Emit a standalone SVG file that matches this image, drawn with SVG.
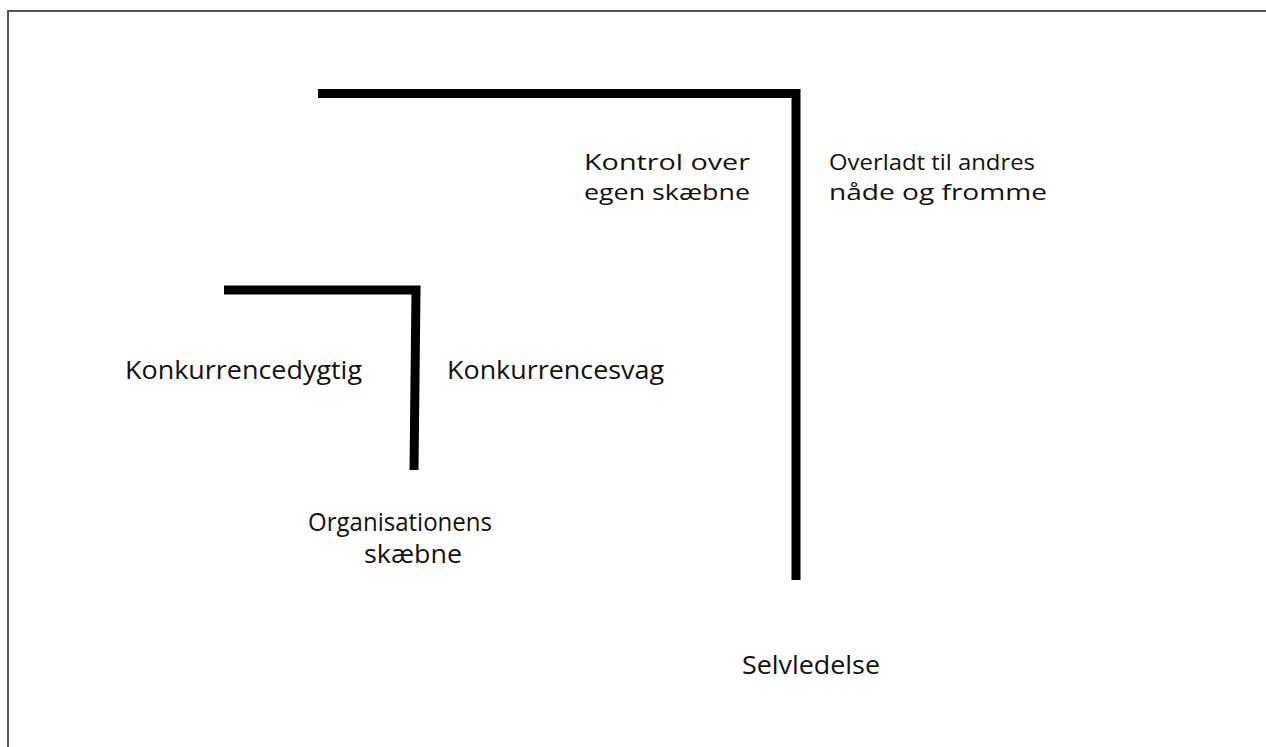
<svg xmlns="http://www.w3.org/2000/svg" width="1266" height="747" viewBox="0 0 1266 747">
  <style>
    .bar { stroke: #000; stroke-width: 9; fill: none; stroke-linecap: butt; stroke-linejoin: miter; }
    .lbl { font-family: "Open Sans", "Noto Sans", sans-serif; font-size: 25px; fill: #111; }
    .stack { font-size: 22px; }
  </style>
  <rect width="1266" height="747" fill="#fff"/>
  <!-- page frame, running off the right and bottom edges -->
  <rect x="8" y="11" width="1280" height="760" fill="none" stroke="#555" stroke-width="2"/>

  <g id="connectors">
    <!-- large corner: self-management -->
    <polyline class="bar" points="318,93.5 796,93.5 796,580"/>
    <!-- small corner: organisation -->
    <polyline class="bar" points="224,290 416,290 414,470"/>
  </g>

  <g id="kontrol">
    <text class="lbl stack" x="584" y="170" textLength="166" lengthAdjust="spacingAndGlyphs">Kontrol over</text>
    <text class="lbl stack" x="584" y="200" textLength="166" lengthAdjust="spacingAndGlyphs">egen skæbne</text>
  </g>
  <g id="overladt">
    <text class="lbl stack" x="829" y="170" textLength="206" lengthAdjust="spacingAndGlyphs">Overladt til andres</text>
    <text class="lbl stack" x="829" y="200" textLength="218" lengthAdjust="spacingAndGlyphs">nåde og fromme</text>
  </g>
  <g id="konkurrencedygtig">
    <text class="lbl" x="125" y="379" textLength="237" lengthAdjust="spacingAndGlyphs">Konkurrencedygtig</text>
  </g>
  <g id="konkurrencesvag">
    <text class="lbl" x="447" y="379" textLength="217" lengthAdjust="spacingAndGlyphs">Konkurrencesvag</text>
  </g>
  <g id="organisationens">
    <text class="lbl" x="308" y="531" textLength="184" lengthAdjust="spacingAndGlyphs">Organisationens</text>
    <text class="lbl" x="364" y="563" textLength="98" lengthAdjust="spacingAndGlyphs">skæbne</text>
  </g>
  <g id="selvledelse">
    <text class="lbl" x="742" y="674" textLength="138" lengthAdjust="spacingAndGlyphs">Selvledelse</text>
  </g>
</svg>
